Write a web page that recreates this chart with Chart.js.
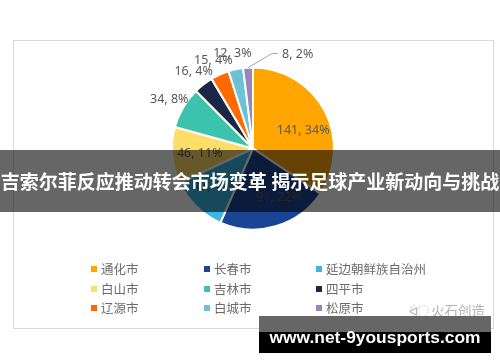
<!DOCTYPE html>
<html><head><meta charset="utf-8">
<script src="https://cdn.jsdelivr.net/npm/chart.js@4"></script>
<style>
html,body{margin:0;padding:0;background:#fff;}
#wrap{position:relative;width:500px;height:362px;overflow:hidden;font-family:"Noto Sans CJK SC","Noto Sans",sans-serif;}
#card{position:absolute;left:13px;top:40px;width:479px;height:287px;border:1px solid #d9d9d9;box-sizing:content-box;}
#c{position:absolute;left:0;top:0;}
.lg{position:absolute;font-size:12.5px;color:#6b6b6b;white-space:nowrap;line-height:14px;}
.mk{position:absolute;width:6px;height:6px;}
#banner{position:absolute;left:0;top:150px;width:500px;height:62px;background:rgba(0,0,0,0.6);color:#fff;font-weight:bold;font-size:19px;line-height:62px;text-align:center;white-space:nowrap;}
#wm{position:absolute;left:409px;top:300px;color:#b5b5b5;font-size:13.5px;white-space:nowrap;}
#g1{position:absolute;left:259px;top:316px;width:232px;height:16px;background:#666;}
#g2{position:absolute;left:259px;top:332px;width:232px;height:21px;background:#000;}
#url{position:absolute;left:259px;top:316px;width:232px;height:37px;line-height:42px;text-align:center;color:#fff;font-family:"Liberation Sans",Arial,sans-serif;font-weight:bold;font-size:17.4px;white-space:nowrap;}
</style></head>
<body>
<div id="wrap">
  <div id="card"></div>
  <canvas id="c" width="500" height="362"></canvas>
  <div id="legend"></div>
  <div id="wm"><span style="font-size:12px;letter-spacing:-1px;">ᐛ◌</span> 火石创造</div>
  <div id="banner">吉索尔菲反应推动转会市场变革 揭示足球产业新动向与挑战</div>
  <div id="g1"></div><div id="g2"></div>
  <div id="url">www.net-9yousports.com</div>
</div>
<script>
const categories = ["通化市","长春市","延边朝鲜族自治州","白山市","吉林市","四平市","辽源市","白城市","松原市"];
const values = [141, 91, 47, 46, 34, 16, 15, 12, 8];
const percents = ["34%","22%","12%","11%","8%","4%","4%","3%","2%"];
const colors = ["#FFA500","#1A4494","#3BB6E5","#FFDD66","#3CC3AE","#1B2747","#FF6A00","#6CC2D6","#9B83BB"];
const legendOrder = ["通化市","长春市","延边朝鲜族自治州","白山市","吉林市","四平市","辽源市","白城市","松原市"];

// legend (HTML)
const colX = [91, 204, 316], rowY = [269, 289, 308];
const lg = document.getElementById('legend');
legendOrder.forEach((name, k) => {
  const i = categories.indexOf(name);
  const col = k % 3, row = Math.floor(k / 3);
  const m = document.createElement('div');
  m.className = 'mk'; m.style.background = colors[i];
  m.style.left = colX[col] + 'px'; m.style.top = (rowY[row] - 3) + 'px';
  lg.appendChild(m);
  const t = document.createElement('div');
  t.className = 'lg'; t.textContent = name;
  t.style.left = (colX[col] + 10) + 'px'; t.style.top = (rowY[row] - 7.5) + 'px';
  lg.appendChild(t);
});

const total = values.reduce((a, b) => a + b, 0);
// small text nudges (px) for the in-slice labels, mimicking the original "best fit" placement
const insideNudge = {0: [3, 7], 1: [11, -2]};
const labelPlugin = {
  id: 'pieLabels',
  afterDatasetsDraw(chart) {
    const ctx = chart.ctx;
    const meta = chart.getDatasetMeta(0);
    ctx.save();
    ctx.font = '12.5px "Noto Sans", "Liberation Sans", sans-serif';
    ctx.fillStyle = '#595959';
    ctx.textBaseline = 'middle';
    meta.data.forEach((arc, i) => {
      const p = arc.getProps(['x','y','startAngle','endAngle','outerRadius'], true);
      const mid = (p.startAngle + p.endAngle) / 2;
      const share = values[i] / total;
      const txt = values[i] + ', ' + percents[i];
      const r = p.outerRadius;
      if (share > 0.105) {
        const rr = r * 0.66;
        const n = insideNudge[i] || [0, 0];
        ctx.textAlign = 'center';
        ctx.fillText(txt, p.x + Math.cos(mid) * rr + n[0], p.y + Math.sin(mid) * rr + n[1]);
      } else if (share >= 0.025) {
        const rr = r + 16;
        ctx.textAlign = 'center';
        ctx.fillText(txt, p.x + Math.cos(mid) * rr, p.y + Math.sin(mid) * rr);
      } else {
        const sx = p.x + Math.cos(mid) * r, sy = p.y + Math.sin(mid) * r;
        const ex = p.x + 19, ey = p.y - r - 14;
        ctx.strokeStyle = '#a6a6a6'; ctx.lineWidth = 1;
        ctx.beginPath(); ctx.moveTo(sx, sy); ctx.lineTo(ex, ey); ctx.lineTo(ex + 6, ey); ctx.stroke();
        ctx.textAlign = 'left';
        ctx.fillText(txt, ex + 10, ey + 0.5);
      }
    });
    ctx.restore();
  }
};

new Chart(document.getElementById('c'), {
  type: 'pie',
  data: {
    labels: categories,
    datasets: [{ data: values, backgroundColor: colors, borderColor: '#ffffff', borderWidth: 2 }]
  },
  options: {
    responsive: false,
    devicePixelRatio: 1,
    animation: false,
    layout: { padding: { left: 171, right: 165, top: 66, bottom: 131 } },
    plugins: { legend: { display: false }, tooltip: { enabled: false } }
  },
  plugins: [labelPlugin]
});
</script>
</body></html>
